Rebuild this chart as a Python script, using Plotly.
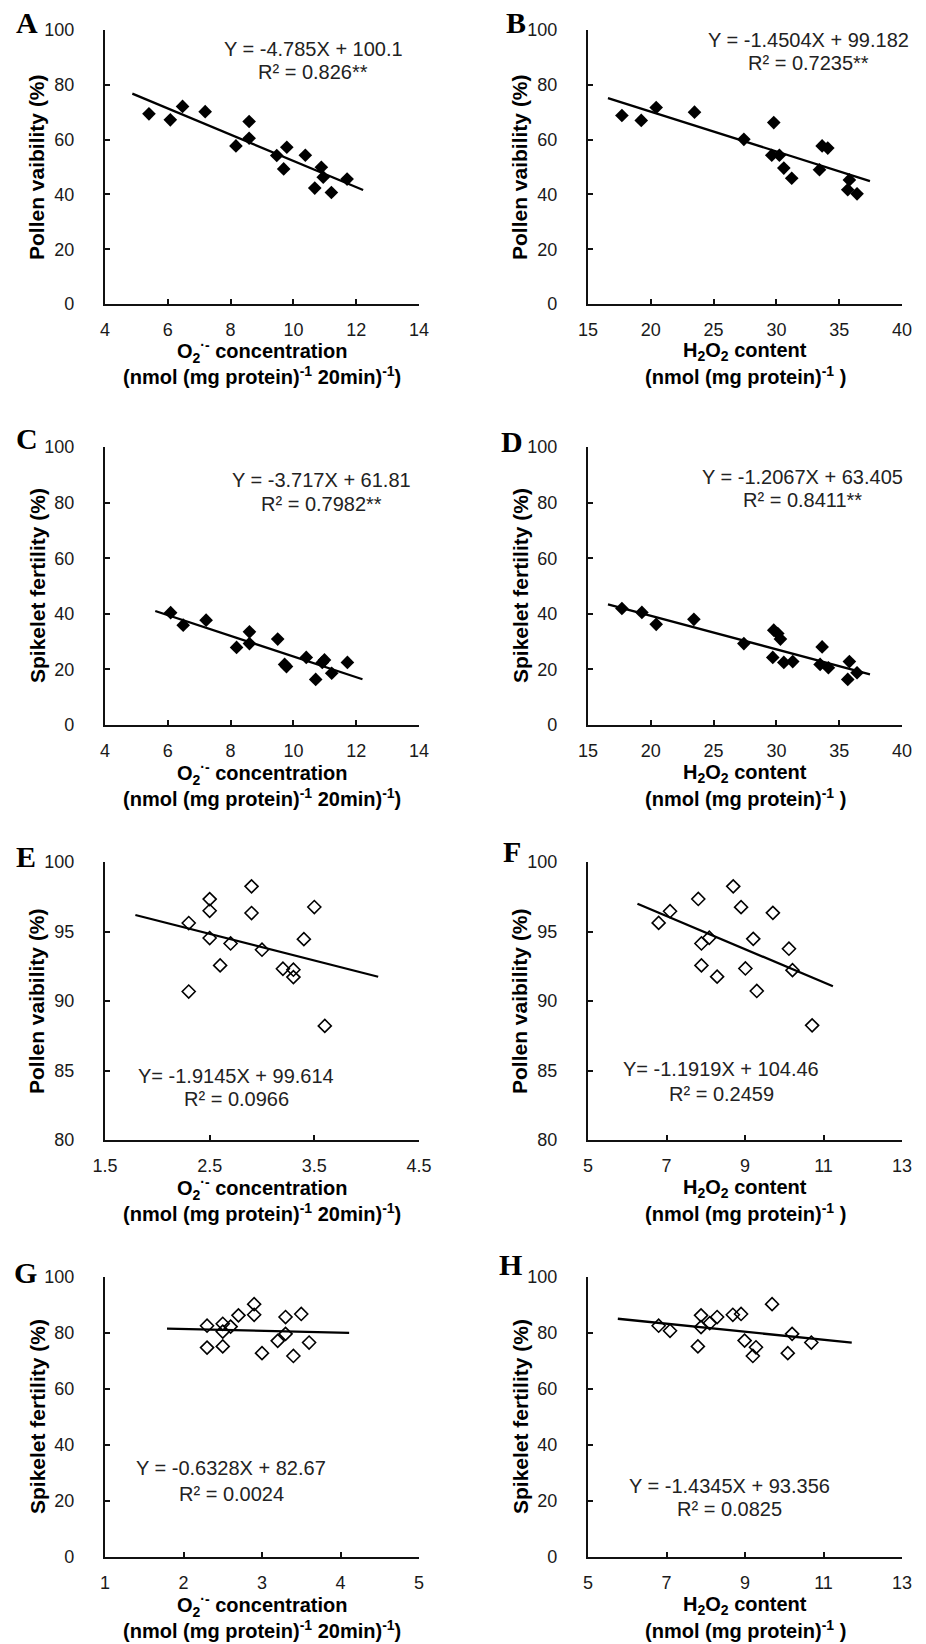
import plotly.graph_objects as go

W, H = 926, 1644

# ---------------- data ----------------
A_x = [5.40, 6.08, 6.47, 7.19, 8.17, 8.59, 8.59, 9.47, 9.69, 9.79, 10.38, 10.68, 10.89, 10.95, 11.21, 11.71]
A_y = [69.4, 67.2, 72.1, 70.2, 57.7, 66.6, 60.5, 54.2, 49.3, 57.2, 54.3, 42.3, 49.9, 46.3, 40.7, 45.6]

B_x = [17.70, 19.24, 20.43, 23.48, 27.41, 29.79, 29.63, 30.24, 30.59, 31.22, 33.43, 33.64, 34.09, 35.81, 35.68, 36.42]
B_y = [68.8, 67.0, 71.7, 70.0, 60.1, 66.2, 54.3, 54.3, 49.6, 45.9, 49.0, 57.7, 56.9, 45.3, 41.7, 40.2]

C_x = [6.09, 6.49, 7.22, 8.19, 8.60, 8.60, 9.50, 9.72, 9.78, 10.41, 10.71, 10.92, 10.99, 11.22, 11.72]
C_y = [40.4, 35.9, 37.7, 27.9, 33.5, 29.3, 30.9, 21.8, 21.0, 24.3, 16.4, 22.5, 23.4, 18.6, 22.5]

D_x = [17.70, 19.29, 20.43, 23.43, 27.41, 29.79, 30.11, 30.32, 29.71, 30.59, 31.30, 33.48, 33.64, 34.14, 35.81, 35.68, 36.42]
D_y = [41.9, 40.5, 36.2, 38.0, 29.3, 34.1, 32.9, 30.9, 24.3, 22.5, 22.8, 21.8, 28.1, 20.6, 22.8, 16.4, 18.8]

E_x = [2.30, 2.30, 2.50, 2.50, 2.50, 2.60, 2.70, 2.90, 2.90, 3.00, 3.20, 3.30, 3.30, 3.40, 3.50, 3.60]
E_y = [95.61, 90.68, 97.33, 96.49, 94.53, 92.56, 94.14, 98.25, 96.33, 93.69, 92.32, 92.25, 91.72, 94.45, 96.76, 88.21]

F_x = [6.80, 7.09, 7.81, 7.89, 8.09, 7.89, 8.29, 8.70, 8.90, 9.01, 9.21, 9.30, 9.71, 10.12, 10.21, 10.71]
F_y = [95.62, 96.46, 97.34, 94.14, 94.55, 92.56, 91.75, 98.25, 96.75, 92.34, 94.47, 90.72, 96.34, 93.76, 92.22, 88.25]

G_x = [2.30, 2.30, 2.50, 2.50, 2.50, 2.60, 2.70, 2.90, 2.90, 3.00, 3.20, 3.30, 3.30, 3.40, 3.50, 3.60]
G_y = [82.6, 74.8, 83.3, 80.5, 75.2, 82.3, 86.3, 90.3, 86.5, 72.8, 77.2, 79.7, 85.7, 71.8, 86.8, 76.6]

H_x = [6.80, 7.09, 7.80, 7.88, 7.88, 8.10, 8.29, 8.69, 8.90, 8.99, 9.20, 9.28, 9.69, 10.09, 10.20, 10.69]
H_y = [82.6, 80.8, 75.2, 86.3, 82.1, 83.5, 85.7, 86.5, 86.8, 77.3, 71.8, 74.9, 90.3, 72.8, 79.7, 76.6]

# regression: slope, intercept, x-extent of the trendline
fit_slope = [-4.785, -1.4504, -3.717, -1.2067, -1.9145, -1.1919, -0.6328, -1.4345]
fit_intercept = [100.1, 99.182, 61.81, 63.405, 99.614, 104.46, 82.67, 93.356]
fit_xrange = [[4.87, 12.22], [16.59, 37.45], [5.6, 12.2], [16.59, 37.45],
              [1.79, 4.11], [6.26, 11.24], [1.79, 4.11], [5.76, 11.72]]

eq_line1 = ["Y = -4.785X + 100.1", "Y = -1.4504X + 99.182", "Y = -3.717X + 61.81", "Y = -1.2067X + 63.405",
            "Y= -1.9145X + 99.614", "Y= -1.1919X + 104.46", "Y = -0.6328X + 82.67", "Y = -1.4345X + 93.356"]
eq_line2 = ["R² = 0.826**", "R² = 0.7235**", "R² = 0.7982**", "R² = 0.8411**",
            "R² = 0.0966", "R² = 0.2459", "R² = 0.0024", "R² = 0.0825"]

panel_letters = ["A", "B", "C", "D", "E", "F", "G", "H"]
y_titles = ["Pollen vaibility (%)", "Pollen vaibility (%)", "Spikelet fertility (%)", "Spikelet fertility (%)",
            "Pollen vaibility (%)", "Pollen vaibility (%)", "Spikelet fertility (%)", "Spikelet fertility (%)"]
o2_title = ["O<sub>2</sub><sup>·-</sup> concentration", "(nmol (mg protein)<sup>-1</sup> 20min)<sup>-1</sup>)"]
h2o2_title = ["H<sub>2</sub>O<sub>2</sub> content", "(nmol (mg protein)<sup>-1</sup> )"]
x_titles = [o2_title, h2o2_title, o2_title, h2o2_title, o2_title, h2o2_title, o2_title, h2o2_title]

x_ranges = [[4, 14], [15, 40], [4, 14], [15, 40], [1.5, 4.5], [5, 13], [1, 5], [5, 13]]
x_dtick = [2, 5, 2, 5, 1, 2, 1, 2]
y_ranges = [[0, 100], [0, 100], [0, 100], [0, 100], [80, 100], [80, 100], [0, 100], [0, 100]]
y_dtick = [20, 20, 20, 20, 5, 5, 20, 20]

xs = [A_x, B_x, C_x, D_x, E_x, F_x, G_x, H_x]
ys = [A_y, B_y, C_y, D_y, E_y, F_y, G_y, H_y]
filled = [True, True, True, True, False, False, False, False]

# ---------------- layout geometry (pixels) ----------------
col_x = [(105, 419), (588, 902)]
row_y = [(30, 304), (447, 725), (862, 1140), (1277, 1557)]
letter_pos = [(27, 22), (516, 23), (27, 439), (512, 442), (26, 857), (512, 851), (25, 1272), (510, 1264)]
eq_pos = [(313, 49, 72), (808, 40, 63), (321, 480, 504), (802, 477, 500),
          (236, 1076, 1099), (721, 1069, 1094), (231, 1468, 1494), (729, 1486, 1509)]
ytitle_x = [37, 520]


def px(x):
    return x / W


def py(y):
    return 1 - y / H


FONT = "Arial, 'Liberation Sans', sans-serif"
GAP = "\u2007\u2007\u2008"  # non-collapsing spaces: keep the y tick labels off the axis line

fig = go.Figure()
layout = dict(width=W, height=H, margin=dict(l=0, r=0, t=0, b=0, pad=0, autoexpand=False),
              paper_bgcolor="white", plot_bgcolor="white", showlegend=False,
              font=dict(family=FONT, color="#1a1a1a"))
annotations = []

for i in range(8):
    r, c = divmod(i, 2)
    k = "" if i == 0 else str(i + 1)
    xa, ya = "x" + k, "y" + k
    x0, x1 = col_x[c]
    y0, y1 = row_y[r]
    axis_common = dict(showline=True, linecolor="#111", linewidth=2, ticks="inside", ticklen=5,
                       tickwidth=1.5, tickcolor="#111", showgrid=False, zeroline=False, automargin=False,
                       tickfont=dict(size=18, color="#1a1a1a", family=FONT))
    layout["xaxis" + k] = dict(domain=[px(x0), px(x1)], range=x_ranges[i], dtick=x_dtick[i],
                               tick0=x_ranges[i][0], anchor=ya, ticklabelstandoff=8, **axis_common)
    layout["yaxis" + k] = dict(domain=[py(y1), py(y0)], range=y_ranges[i], dtick=y_dtick[i],
                               tick0=y_ranges[i][0], anchor=xa, ticksuffix=GAP, **axis_common)

    if filled[i]:
        marker = dict(symbol="diamond", size=10.5, color="black", line=dict(width=0))
    else:
        marker = dict(symbol="diamond-open", size=10, color="black", line=dict(width=1.6, color="black"))
    fig.add_trace(go.Scatter(x=xs[i], y=ys[i], mode="markers", marker=marker, xaxis=xa, yaxis=ya,
                             cliponaxis=False))
    fx = fit_xrange[i]
    fy = [fit_slope[i] * v + fit_intercept[i] for v in fx]
    fig.add_trace(go.Scatter(x=fx, y=fy, mode="lines", line=dict(color="black", width=2.3),
                             xaxis=xa, yaxis=ya))

    # panel letter
    lx, ly = letter_pos[i]
    annotations.append(dict(x=px(lx), y=py(ly), xref="paper", yref="paper", text="<b>%s</b>" % panel_letters[i],
                            showarrow=False, xanchor="center", yanchor="middle",
                            font=dict(family="'Liberation Serif', 'Times New Roman', serif", size=30, color="black")))
    # equations
    ex, e1, e2 = eq_pos[i]
    for txt, yy in ((eq_line1[i], e1), (eq_line2[i], e2)):
        annotations.append(dict(x=px(ex), y=py(yy), xref="paper", yref="paper", text=txt, showarrow=False,
                                xanchor="center", yanchor="middle", font=dict(size=20, color="#222")))
    # y title
    annotations.append(dict(x=px(ytitle_x[c]), y=py((y0 + y1) / 2), xref="paper", yref="paper",
                            text="<b>%s</b>" % y_titles[i], textangle=-90, showarrow=False,
                            xanchor="center", yanchor="middle", font=dict(size=21, color="black")))
    # x title (two lines)
    xc = (x0 + x1) / 2
    for j, off in enumerate((48, 72)):
        annotations.append(dict(x=px(xc), y=py(y1 + off), xref="paper", yref="paper",
                                text="<b>%s</b>" % x_titles[i][j], showarrow=False,
                                xanchor="center", yanchor="middle", font=dict(size=20, color="black")))

layout["annotations"] = annotations
fig.update_layout(**layout)
fig.write_html("out.html", include_plotlyjs=True, full_html=True,
               config={"responsive": False, "displayModeBar": False},
               post_script="document.body.style.margin='0';document.body.style.padding='0';"
                           "document.documentElement.style.overflow='hidden';")
